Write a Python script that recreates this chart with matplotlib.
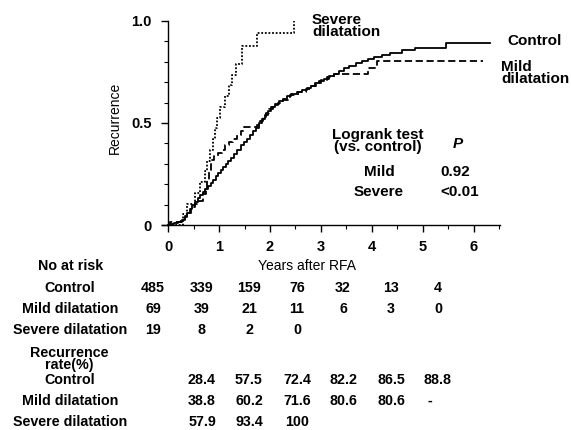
import matplotlib
matplotlib.use("Agg")
import matplotlib.pyplot as plt
from matplotlib.ticker import MultipleLocator, FixedLocator

plt.rcParams['font.family'] = ['Liberation Sans', 'DejaVu Sans']

# ---- data ----
control_t = [0, 0.05, 0.12, 0.2, 0.27, 0.32, 0.37, 0.42, 0.47, 0.52, 0.58, 0.63, 0.68, 0.73, 0.78,
             0.83, 0.88, 0.93, 0.98, 1.03, 1.08, 1.13, 1.18, 1.24, 1.3, 1.36, 1.42, 1.48, 1.54,
             1.6, 1.66, 1.72, 1.78, 1.84, 1.9, 1.96, 2.02, 2.1, 2.18, 2.26, 2.34, 2.42, 2.52,
             2.62, 2.72, 2.8, 2.88, 2.96, 3.06, 3.16, 3.26, 3.36, 3.46, 3.56, 3.68, 3.8, 3.92,
             4.04, 4.2, 4.36, 4.6, 4.85, 5.46, 6.32]
control_y = [0, 0.004, 0.01, 0.015, 0.025, 0.04, 0.06, 0.08, 0.10, 0.115, 0.13, 0.145, 0.16, 0.175, 0.19,
             0.205, 0.22, 0.24, 0.255, 0.27, 0.285, 0.30, 0.315, 0.33, 0.35, 0.37, 0.39, 0.405, 0.42,
             0.44, 0.46, 0.475, 0.50, 0.52, 0.54, 0.56, 0.58, 0.595, 0.61, 0.62, 0.63, 0.64, 0.65,
             0.66, 0.67, 0.68, 0.695, 0.705, 0.715, 0.728, 0.74, 0.755, 0.768, 0.78, 0.795, 0.805, 0.815,
             0.825, 0.835, 0.845, 0.857, 0.868, 0.89, 0.89]

mild_t = [0, 0.04, 0.25, 0.32, 0.38, 0.45, 0.52, 0.6, 0.68, 0.74, 0.77, 0.8, 0.83, 0.9, 0.97,
          1.05, 1.12, 1.2, 1.28, 1.35, 1.42, 1.48, 1.74, 1.8, 1.86, 1.92, 1.98, 2.05, 2.15,
          2.25, 2.4, 2.55, 2.7, 2.8, 2.9, 3.0, 3.12, 3.25, 3.93, 4.1, 6.19]
mild_y = [0, 0.015, 0.03, 0.045, 0.06, 0.09, 0.105, 0.12, 0.15, 0.175, 0.22, 0.27, 0.32, 0.34, 0.355,
          0.37, 0.39, 0.405, 0.42, 0.44, 0.46, 0.478, 0.49, 0.51, 0.53, 0.55, 0.57, 0.59, 0.60,
          0.615, 0.635, 0.65, 0.665, 0.68, 0.695, 0.71, 0.725, 0.739, 0.768, 0.805, 0.805]

severe_t = [0, 0.28, 0.36, 0.52, 0.62, 0.72, 0.77, 0.82, 0.87, 0.91, 0.95, 1.01, 1.12, 1.2, 1.26,
            1.33, 1.45, 1.74, 2.47]
severe_y = [0, 0.053, 0.105, 0.158, 0.21, 0.263, 0.316, 0.368, 0.421, 0.474, 0.526, 0.579, 0.632,
            0.684, 0.737, 0.789, 0.877, 0.939, 1.0]

years = [0, 1, 2, 3, 4, 5, 6]
group_labels = ["Control", "Mild dilatation", "Severe dilatation"]
at_risk = [
    ["485", "339", "159", "76", "32", "13", "4"],
    ["69", "39", "21", "11", "6", "3", "0"],
    ["19", "8", "2", "0"],
]
rates = [
    ["28.4", "57.5", "72.4", "82.2", "86.5", "88.8"],
    ["38.8", "60.2", "71.6", "80.6", "80.6", "-"],
    ["57.9", "93.4", "100"],
]
logrank_rows = ["Mild", "Severe"]
logrank_p = ["0.92", "<0.01"]

# ---- figure ----
W, H = 571, 430
fig = plt.figure(figsize=(W / 100, H / 100), dpi=100)
fig.patch.set_facecolor("white")

def fx(px):
    return px / W

def fy(py):
    return 1 - py / H

ax_left, ax_right, ax_bot, ax_top = 161.7, 500, 225, 21
ax = fig.add_axes([fx(ax_left), fy(ax_bot), (ax_right - ax_left) / W, (ax_bot - ax_top) / H])
ax.set_xlim(-0.13, 6.52)
ax.set_ylim(0, 1.0)

lw = 1.3
ax.step(control_t, control_y, where="post", color="black", lw=lw, clip_on=False)
ax.step(mild_t, mild_y, where="post", color="black", lw=lw, linestyle=(0, (4, 2)), clip_on=False)
ax.step(severe_t, severe_y, where="post", color="black", lw=lw, linestyle=(0, (1, 1)), clip_on=False)

for s in ["top", "right"]:
    ax.spines[s].set_visible(False)
ax.spines["left"].set_position(("data", 0))
ax.spines["left"].set_bounds(0, 1.0)
ax.spines["left"].set_linewidth(1.0)
ax.spines["bottom"].set_linewidth(1.0)

ax.xaxis.set_major_locator(FixedLocator(years))
ax.xaxis.set_minor_locator(MultipleLocator(0.5))
ax.yaxis.set_major_locator(FixedLocator([0, 0.5, 1.0]))
ax.yaxis.set_minor_locator(MultipleLocator(0.1))
ax.set_yticklabels(["0", "0.5", "1.0"])
ax.set_xticklabels([str(v) for v in years])
ax.tick_params(axis="both", which="major", direction="out", length=5, width=1.0,
               labelsize=10.5)
ax.tick_params(axis="x", which="major", pad=6)
ax.tick_params(axis="y", which="major", pad=7)
ax.tick_params(axis="both", which="minor", direction="out", length=3, width=0.8)
for lab in ax.get_xticklabels() + ax.get_yticklabels():
    lab.set_fontweight("bold")

ax.set_ylabel("Recurrence", fontsize=10)
ax.yaxis.set_label_coords((122 - ax_left) / (ax_right - ax_left), 0.525)

# curve labels
fig.text(fx(312), fy(26), "Severe\ndilatation", fontsize=11, fontweight="bold",
         ha="left", va="center", linespacing=0.9)
fig.text(fx(507), fy(41), "Control", fontsize=11, fontweight="bold", ha="left", va="center")
fig.text(fx(501), fy(73), "Mild\ndilatation", fontsize=11, fontweight="bold",
         ha="left", va="center", linespacing=0.9)

# logrank block
fig.text(fx(378), fy(141), "Logrank test\n(vs. control)", fontsize=11, fontweight="bold",
         ha="center", va="center", linespacing=0.9, multialignment="center")
fig.text(fx(458), fy(144), "P", fontsize=11, fontweight="bold", style="italic",
         ha="center", va="center")
for i, (r, p) in enumerate(zip(logrank_rows, logrank_p)):
    yy = [172, 192.5][i]
    fig.text(fx(379), fy(yy), r, fontsize=11, fontweight="bold", ha="center", va="center")
    fig.text(fx(440), fy(yy), p, fontsize=11, fontweight="bold", ha="left", va="center")

# x label and table
fig.text(fx(307), fy(266), "Years after RFA", fontsize=10, ha="center", va="center")
fig.text(fx(71), fy(266), "No at risk", fontsize=10.3, fontweight="bold", ha="center", va="center")

col_x = [153, 202, 249, 297, 343, 391, 438]
risk_rows_y = [288, 309, 330]
for gi, g in enumerate(group_labels):
    fig.text(fx(70), fy(risk_rows_y[gi]), g, fontsize=10.3, fontweight="bold",
             ha="center", va="center")
    for ci, v in enumerate(at_risk[gi]):
        fig.text(fx(col_x[ci]), fy(risk_rows_y[gi]), v, fontsize=10.3, fontweight="bold",
                 ha="center", va="center")

fig.text(fx(69), fy(359), "Recurrence\nrate(%)", fontsize=10.3, fontweight="bold",
         ha="center", va="center", linespacing=0.85, multialignment="center")
rate_rows_y = [380, 401, 422]
for gi, g in enumerate(group_labels):
    fig.text(fx(70), fy(rate_rows_y[gi]), g, fontsize=10.3, fontweight="bold",
             ha="center", va="center")
    for ci, v in enumerate(rates[gi]):
        xx = col_x[ci + 1] if v != "-" else 430
        fig.text(fx(xx), fy(rate_rows_y[gi]), v, fontsize=10.3, fontweight="bold",
                 ha="center", va="center")

fig.savefig("out.png", dpi=100, facecolor="white")
